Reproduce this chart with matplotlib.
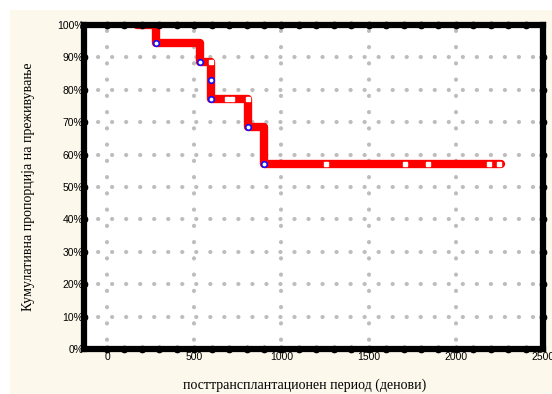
import matplotlib.pyplot as plt
import matplotlib.patches as mpatches
import numpy as np

plt.rcParams['lines.scale_dashes'] = False

# Kaplan-Meier step data (days, survival %)
step_days = [170, 281, 533, 596, 596, 807, 902, 2260]
step_surv = [100, 94.3, 88.6, 82.9, 77.1, 68.5, 57.1, 57.1]
# events (blue circles)
event_days = [281, 533, 596, 596, 807, 902]
event_surv = [94.3, 88.6, 82.9, 77.1, 68.5, 57.1]
# censored (white squares)
cens_days = [596, 686, 714, 809, 1254, 1709, 1843, 2192, 2250]
cens_surv = [88.6, 77.1, 77.1, 77.1, 57.1, 57.1, 57.1, 57.1, 57.1]

xticks = [0, 500, 1000, 1500, 2000, 2500]
yticks = list(range(0, 101, 10))

fig = plt.figure(figsize=(5.52, 3.94), dpi=100, facecolor='white')
fig.patches.append(mpatches.Rectangle((10 / 552, 0), 1, 384 / 394, transform=fig.transFigure,
                                      facecolor='#fdf8ec', edgecolor='none', zorder=-10))
ax = fig.add_axes([0.1513, 0.1142, 0.8324, 0.8223])
ax.set_facecolor('white')

# dotted grid
for yv in yticks[1:-1]:
    ax.axhline(yv, color='#bdbdbd', lw=3, linestyle=(0, (0.1, 10)), dash_capstyle='round', zorder=1)
for xv in xticks[:-1]:
    ax.axvline(xv, color='#bdbdbd', lw=3, linestyle=(5, (0.1, 11.6)), dash_capstyle='round', zorder=1)

ax.step(step_days, step_surv, where='post', color='#ff0000', lw=6, solid_capstyle='round',
        solid_joinstyle='round', zorder=3)
ax.plot(cens_days, cens_surv, 's', ms=3.2, mfc='white', mec='white', zorder=4)
ax.plot(event_days, event_surv, 'o', ms=4, mfc='white', mec='#1010ff', mew=1.2, zorder=5)

ax.set_xlim(-135, 2500)
ax.set_ylim(0, 100)
ax.set_xticks(xticks)
ax.set_yticks(yticks)
ax.set_yticklabels([f'{v}%' for v in yticks])
ax.tick_params(length=0, labelsize=7.5, pad=2)
ax.tick_params(axis='y', pad=0)
for lab in ax.get_xticklabels() + ax.get_yticklabels():
    lab.set_fontfamily('Liberation Sans')

for s in ax.spines.values():
    s.set_linewidth(4.5)
    s.set_color('black')
    s.set_zorder(6)

# bumps along the frame
bx = np.arange(0, 2500, 100)
ax.plot(bx, np.zeros(len(bx)), 'o', ms=4.5, color='black', clip_on=False, zorder=7)
ax.plot(bx, np.full(len(bx), 100), 'o', ms=4.5, color='black', clip_on=False, zorder=7)
by = np.arange(10, 100, 10)
ax.plot(np.full(len(by), -135), by, 'o', ms=4.5, color='black', clip_on=False, zorder=7)
ax.plot(np.full(len(by), 2500), by, 'o', ms=4.5, color='black', clip_on=False, zorder=7)

fig.text(0.5525, 0.022, 'посттрансплантационен период (денови)', ha='center', va='center',
         fontsize=10, family='Liberation Serif')
fig.text(0.051, 0.525, 'Кумулативна пропорција на преживување', ha='center', va='center',
         rotation=90, fontsize=10, family='Liberation Serif')

fig.savefig('out.png', dpi=100, facecolor=fig.get_facecolor())
